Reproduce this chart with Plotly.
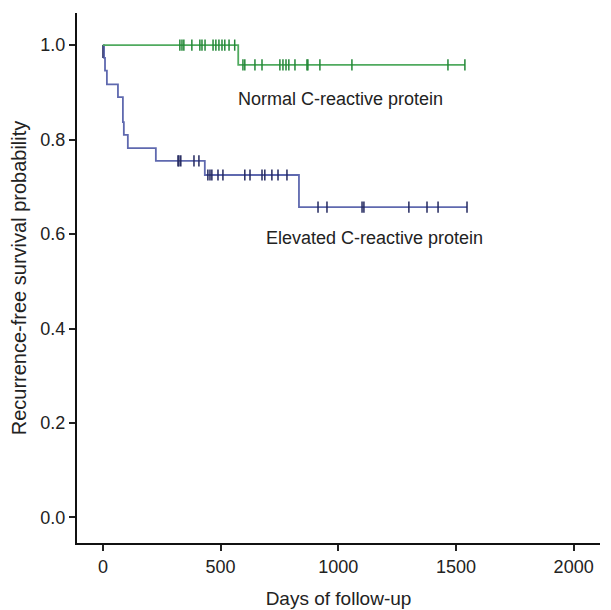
import plotly.graph_objects as go

# Normal CRP group: event times / survival after each event
normal_event_days = [575]
normal_event_surv = [0.958]
normal_end_day = 1538
normal_censor_days = [327, 336, 344, 378, 412, 421, 434, 468, 480, 493, 506, 518, 536, 560,
                      595, 603, 646, 676, 752, 765, 778, 790, 816, 867, 871, 922, 1058, 1466, 1538]

# Elevated CRP group
elevated_event_days = [5, 9, 17, 64, 85, 89, 106, 225, 433, 833]
elevated_event_surv = [0.973, 0.946, 0.917, 0.890, 0.837, 0.810, 0.782, 0.755, 0.725, 0.657]
elevated_end_day = 1547
elevated_censor_days = [319, 323, 331, 387, 408, 446, 455, 463, 489, 510, 603, 625, 676, 688,
                        718, 744, 782, 914, 952, 1101, 1109, 1300, 1377, 1424, 1547]

x_ticks = [0, 500, 1000, 1500, 2000]
y_ticks = [0.0, 0.2, 0.4, 0.6, 0.8, 1.0]


def step_xy(event_days, event_surv, end_day):
    xs = [0] + list(event_days) + [end_day]
    ys = [1.0] + list(event_surv) + [event_surv[-1]]
    return xs, ys


def surv_at(days, event_days, event_surv):
    out = []
    for d in days:
        s = 1.0
        for t, v in zip(event_days, event_surv):
            if d >= t:
                s = v
        out.append(s)
    return out


green_line = "rgb(80,170,95)"
green_mark = "rgb(35,135,55)"
blue_line = "rgb(95,105,175)"
blue_mark = "rgb(35,40,95)"

fig = go.Figure()

nx, ny = step_xy(normal_event_days, normal_event_surv, normal_end_day)
ex, ey = step_xy(elevated_event_days, elevated_event_surv, elevated_end_day)

fig.add_trace(go.Scatter(x=ex, y=ey, mode="lines", line=dict(shape="hv", color=blue_line, width=1.8),
                         showlegend=False, hoverinfo="skip"))
fig.add_trace(go.Scatter(x=[0, 0], y=[1.0, elevated_event_surv[0]], mode="lines",
                         line=dict(color="rgb(50,55,110)", width=1.5), showlegend=False, hoverinfo="skip"))
fig.add_trace(go.Scatter(x=elevated_censor_days,
                         y=surv_at(elevated_censor_days, elevated_event_days, elevated_event_surv),
                         mode="markers",
                         marker=dict(symbol="line-ns", size=8, line=dict(color=blue_mark, width=1.5)),
                         showlegend=False, hoverinfo="skip"))

fig.add_trace(go.Scatter(x=nx, y=ny, mode="lines", line=dict(shape="hv", color=green_line, width=1.8),
                         showlegend=False, hoverinfo="skip"))
fig.add_trace(go.Scatter(x=normal_censor_days,
                         y=surv_at(normal_censor_days, normal_event_days, normal_event_surv),
                         mode="markers",
                         marker=dict(symbol="line-ns", size=8, line=dict(color=green_mark, width=1.5)),
                         showlegend=False, hoverinfo="skip"))

font_family = "Liberation Sans, Arial, sans-serif"

fig.add_annotation(x=565, y=0.886, text="Normal C-reactive protein", showarrow=False,
                   xanchor="left", yanchor="middle", font=dict(size=18, color="#222", family=font_family))
fig.add_annotation(x=684, y=0.592, text="Elevated C-reactive protein", showarrow=False,
                   xanchor="left", yanchor="middle", font=dict(size=18, color="#222", family=font_family))

fig.update_layout(
    width=611, height=610,
    margin=dict(l=69, r=19, t=5, b=75),
    paper_bgcolor="white", plot_bgcolor="white",
    font=dict(family=font_family, size=18, color="#222"),
    xaxis=dict(range=[-110, 2112], tickvals=x_ticks, ticks="outside", ticklen=6, tickwidth=1.5,
               tickcolor="#222", showline=True, linecolor="#111", linewidth=2, showgrid=False,
               zeroline=False, tickfont=dict(size=18), automargin=False,
               title=dict(text="Days of follow-up", font=dict(size=19), standoff=16)),
    yaxis=dict(range=[-0.054, 1.068], tickvals=y_ticks, tickformat=".1f", ticks="outside", ticklen=6,
               tickwidth=1.5, tickcolor="#222", showline=True, linecolor="#111", linewidth=2,
               showgrid=False, zeroline=False, tickfont=dict(size=18), automargin=False,
               title=dict(text="Recurrence-free survival probability", font=dict(size=20), standoff=12)),
)

fig.write_html("out.html")
